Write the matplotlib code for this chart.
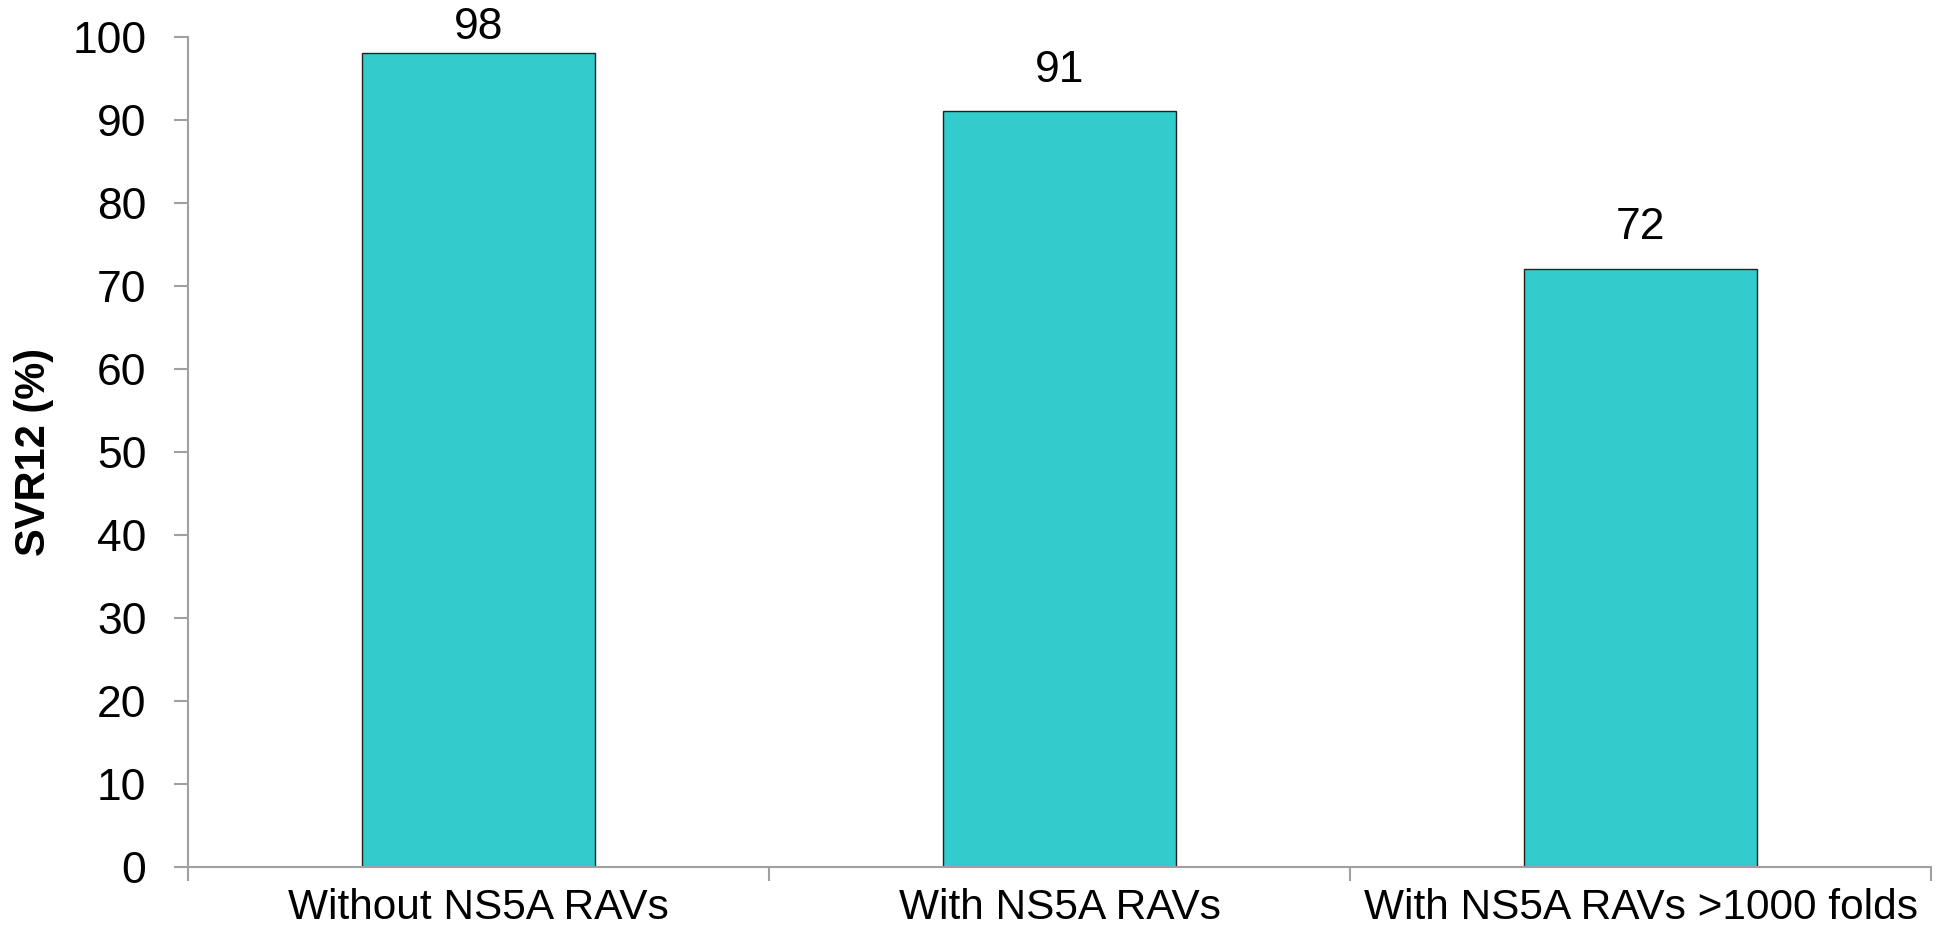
import matplotlib
matplotlib.use("Agg")
import matplotlib.pyplot as plt
import numpy as np

plt.rcParams["font.family"] = ["Liberation Sans", "DejaVu Sans"]

# SVR12 rates by NS5A resistance status
groups = ["Without NS5A RAVs", "With NS5A RAVs", "With NS5A RAVs >1000 folds"]
svr12 = [98, 91, 72]

bar_color = "#33CCCC"
axis_gray = "#A0A0A0"

fig = plt.figure(figsize=(19.47, 9.35), dpi=100)
ax = fig.add_axes([0.0966, 0.0724, 0.8952, 0.8883])

x = np.arange(len(groups))
ax.bar(x, svr12, width=0.4, color=bar_color, edgecolor="#222222", linewidth=1.0, zorder=2)

ax.set_xlim(-0.5, len(groups) - 0.5)
ax.set_ylim(0, 100)
ax.set_yticks(np.arange(0, 101, 10))

# category labels at bar centres, tick marks at the boundaries
ax.set_xticks(x)
ax.set_xticklabels(groups, fontsize=30.5)
ax.set_xticks(np.arange(-0.5, len(groups), 1.0), minor=True)
ax.tick_params(axis="x", which="major", length=0, pad=15)
ax.tick_params(axis="x", which="minor", length=10, width=1.5, color=axis_gray, direction="out")
ax.tick_params(axis="y", labelsize=32, length=10, width=1.5, color=axis_gray, pad=20)

for side in ["top", "right"]:
    ax.spines[side].set_visible(False)
for side in ["left", "bottom"]:
    ax.spines[side].set_color(axis_gray)
    ax.spines[side].set_linewidth(1.5)

ax.set_ylabel("SVR12 (%)", fontsize=30, fontweight="bold", labelpad=13)

# value labels above bars (kept inside the figure near the top)
for xi, v in zip(x, svr12):
    off = 15 if v < 95 else 4
    ax.annotate(str(v), (xi, v), xytext=(0, off), textcoords="offset points",
                ha="center", va="bottom", fontsize=32, annotation_clip=False)

fig.savefig("out.png", dpi=100)
